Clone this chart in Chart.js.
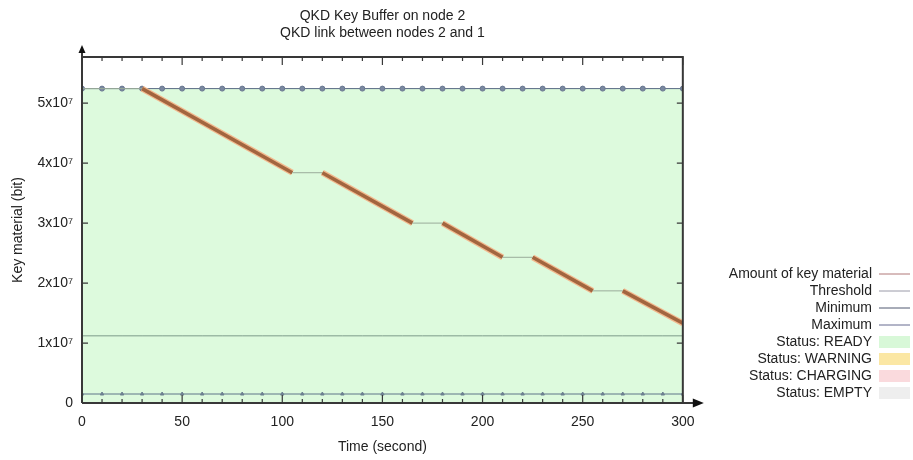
<!DOCTYPE html>
<html lang="en">
<head>
<meta charset="UTF-8">
<title>QKD Key Buffer on node 2</title>
<style>
    body { margin: 0; background: #fff; }
    #wrap { width: 913px; height: 460px; }
</style>
</head>
<body>
<div id="wrap"><canvas id="chart"></canvas></div>

<script src="https://cdn.jsdelivr.net/npm/chart.js"></script>
<script>
    // Valores
    const markerTimes = [0, 10, 20, 30, 40, 50, 60, 70, 80, 90, 100, 110, 120, 130, 140, 150,
                         160, 170, 180, 190, 200, 210, 220, 230, 240, 250, 260, 270, 280, 290, 300];
    const maximumBits = 52428800;
    const minimumBits = 1500000;
    const thresholdBits = 11200000;

    const amountTimes = [0, 30, 105, 120, 165, 180, 210, 225, 255, 270, 300];
    const amountBits = [52428800, 52428800, 38400000, 38400000, 30000000, 30000000,
                        24300000, 24300000, 18700000, 18700000, 13300000];

    const xTicks = [0, 50, 100, 150, 200, 250, 300];
    const xTickLabels = ['0', '50', '100', '150', '200', '250', '300'];
    const yTicks = [0, 10000000, 20000000, 30000000, 40000000, 50000000];
    const yTickLabels = ['0', '1x10⁷', '2x10⁷', '3x10⁷', '4x10⁷', '5x10⁷'];

    const FONT = "'Liberation Sans', Arial, sans-serif";

    const pts = (times, vals) => times.map((t, i) => ({ x: t, y: Array.isArray(vals) ? vals[i] : vals }));
    const sloped = c => c.p0.parsed.y !== c.p1.parsed.y;

    // Moldura estilo gnuplot: bordas, ticks para dentro e setas
    const frame = {
        id: 'frame',
        afterDatasetsDraw(chart) {
            const { ctx, chartArea: a, scales: { x, y } } = chart;
            ctx.save();
            ctx.strokeStyle = '#383838';
            ctx.fillStyle = '#111';
            ctx.lineWidth = 2;
            ctx.beginPath();
            ctx.moveTo(a.left, a.top);
            ctx.lineTo(a.right, a.top);
            ctx.lineTo(a.right, a.bottom);
            ctx.moveTo(a.left, a.bottom);
            ctx.lineTo(a.left, a.top - 6);
            ctx.moveTo(a.left, a.bottom);
            ctx.lineTo(a.right + 12, a.bottom);
            ctx.stroke();

            // setas
            ctx.beginPath();
            ctx.moveTo(a.left, a.top - 12);
            ctx.lineTo(a.left - 3.5, a.top - 4);
            ctx.lineTo(a.left + 3.5, a.top - 4);
            ctx.closePath();
            ctx.fill();
            ctx.beginPath();
            ctx.moveTo(a.right + 21, a.bottom);
            ctx.lineTo(a.right + 10, a.bottom - 4.5);
            ctx.lineTo(a.right + 10, a.bottom + 4.5);
            ctx.closePath();
            ctx.fill();

            ctx.lineWidth = 1.2;
            ctx.beginPath();
            for (let t = x.min; t <= x.max; t += 10) {
                const px = x.getPixelForValue(t);
                const len = t % 50 === 0 ? 8 : 4;
                ctx.moveTo(px, a.bottom);
                ctx.lineTo(px, a.bottom - len);
                ctx.moveTo(px, a.top);
                ctx.lineTo(px, a.top + len);
            }
            yTicks.forEach(v => {
                const py = y.getPixelForValue(v);
                ctx.moveTo(a.left, py);
                ctx.lineTo(a.left + 6, py);
                ctx.moveTo(a.right, py);
                ctx.lineTo(a.right - 6, py);
            });
            ctx.stroke();
            ctx.restore();
        }
    };

    const datasets = [
        {
            label: 'Amount of key material',
            data: pts(amountTimes, amountBits),
            borderColor: '#a4643c',
            borderWidth: 1,
            segment: {
                borderColor: c => sloped(c) ? '#a2653f' : '#9aab9a',
                borderWidth: c => sloped(c) ? 3.5 : 1
            },
            pointRadius: 0,
            legendLine: '#b07878'
        },
        {
            label: 'halo',
            data: pts(amountTimes, amountBits),
            borderColor: 'transparent',
            segment: {
                borderColor: c => sloped(c) ? '#f2b98e' : 'transparent',
                borderWidth: c => sloped(c) ? 6 : 1
            },
            pointRadius: 0,
            hideInLegend: true
        },
        {
            label: 'Threshold',
            data: pts(markerTimes, thresholdBits),
            borderColor: '#7d9a8a',
            borderWidth: 1,
            pointRadius: 0,
            legendLine: '#9a9aa8'
        },
        {
            label: 'Minimum',
            data: pts(markerTimes, minimumBits),
            borderColor: '#5f7488',
            borderWidth: 1,
            pointStyle: 'triangle',
            pointRadius: 2,
            pointBackgroundColor: '#6d8090',
            pointBorderColor: '#6d8090',
            legendLine: '#505870'
        },
        {
            label: 'Maximum',
            data: pts(markerTimes, maximumBits),
            borderColor: '#5a6a85',
            borderWidth: 1,
            pointStyle: 'circle',
            pointRadius: 2.5,
            pointBackgroundColor: '#7a88a0',
            pointBorderColor: '#6a7890',
            legendLine: '#666a90'
        },
        {
            label: 'Status: READY',
            data: pts([0, 300], maximumBits),
            borderWidth: 0,
            pointRadius: 0,
            fill: 'origin',
            backgroundColor: '#ddfadd',
            legendFill: '#d8f8d8'
        },
        { label: 'Status: WARNING', data: [], legendFill: '#fbe7a4' },
        { label: 'Status: CHARGING', data: [], legendFill: '#fadadd' },
        { label: 'Status: EMPTY', data: [], legendFill: '#eeeeee' }
    ];

    new Chart(document.getElementById('chart'), {
        type: 'line',
        data: { datasets },
        options: {
            responsive: true,
            maintainAspectRatio: false,
            animation: false,
            layout: { padding: 0 },
            plugins: {
                title: {
                    display: true,
                    fullSize: false,
                    text: ['QKD Key Buffer on node 2', 'QKD link between nodes 2 and 1'],
                    color: '#222',
                    font: { family: FONT, size: 14, weight: 'normal', lineHeight: 1.25 },
                    padding: { top: 7, bottom: 15 }
                },
                legend: {
                    position: 'right',
                    align: 'end',
                    fullSize: false,
                    rtl: true,
                    textDirection: 'ltr',
                    labels: {
                        usePointStyle: true,
                        pointStyleWidth: 31,
                        boxHeight: 12,
                        padding: 3,
                        color: '#222',
                        font: { family: FONT, size: 14 },
                        generateLabels: chart => chart.data.datasets
                            .map((ds, i) => ({ ds, i }))
                            .filter(o => !o.ds.hideInLegend)
                            .map(({ ds, i }) => ({
                                text: ds.label,
                                fillStyle: ds.legendFill || 'transparent',
                                strokeStyle: ds.legendLine || 'transparent',
                                lineWidth: ds.legendLine ? 1 : 0,
                                pointStyle: ds.legendLine ? 'line' : 'rect',
                                fontColor: '#222',
                                hidden: false,
                                datasetIndex: i
                            }))
                    }
                },
                tooltip: { enabled: false }
            },
            scales: {
                x: {
                    type: 'linear',
                    min: 0,
                    max: 300,
                    grid: { display: false, drawTicks: false },
                    border: { display: false },
                    afterBuildTicks: s => { s.ticks = xTicks.map(v => ({ value: v })); },
                    afterFit: s => { s.height = 57; },
                    ticks: {
                        padding: 11,
                        color: '#222',
                        font: { family: FONT, size: 14 },
                        maxRotation: 0,
                        autoSkip: false,
                        callback: (v, i) => xTickLabels[i]
                    },
                    title: {
                        display: true,
                        text: 'Time (second)',
                        color: '#222',
                        font: { family: FONT, size: 14 },
                        padding: { top: 8, bottom: 4.6 }
                    }
                },
                y: {
                    min: 0,
                    max: 57700000,
                    grid: { display: false, drawTicks: false },
                    border: { display: false },
                    afterBuildTicks: s => { s.ticks = yTicks.map(v => ({ value: v })); },
                    afterFit: s => { s.width = 82; },
                    ticks: {
                        padding: 9,
                        color: '#222',
                        font: { family: FONT, size: 14 },
                        callback: (v, i) => yTickLabels[i]
                    },
                    title: {
                        display: true,
                        text: 'Key material (bit)',
                        color: '#222',
                        font: { family: FONT, size: 14 },
                        padding: { top: 9.6, bottom: 0 }
                    }
                },
                // espaço vazio entre o gráfico e a legenda
                gap: {
                    position: 'right',
                    display: false,
                    min: 0,
                    max: 1,
                    afterFit: s => { s.width = 36; }
                }
            }
        },
        plugins: [frame]
    });
</script>
</body>
</html>
